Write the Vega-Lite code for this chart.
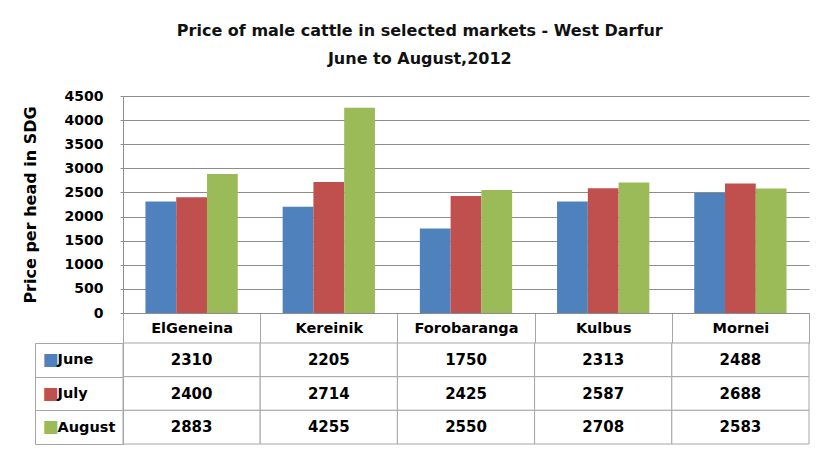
{
  "$schema": "https://vega.github.io/schema/vega-lite/v6.json",
  "padding": {"left": 22, "top": 23, "right": 0, "bottom": 0},
  "background": "white",
  "bounds": "flush",
  "spacing": 30,
  "config": {
    "font": "DejaVu Sans",
    "view": {"stroke": null},
    "axis": {"labelFont": "DejaVu Sans", "labelFontWeight": "bold", "labelColor": "#000000", "titleFont": "DejaVu Sans", "titleColor": "#000000"}
  },
  "data": {
    "values": [
      {"market": "ElGeneina", "month": "June", "price": 2310},
      {"market": "ElGeneina", "month": "July", "price": 2400},
      {"market": "ElGeneina", "month": "August", "price": 2883},
      {"market": "Kereinik", "month": "June", "price": 2205},
      {"market": "Kereinik", "month": "July", "price": 2714},
      {"market": "Kereinik", "month": "August", "price": 4255},
      {"market": "Forobaranga", "month": "June", "price": 1750},
      {"market": "Forobaranga", "month": "July", "price": 2425},
      {"market": "Forobaranga", "month": "August", "price": 2550},
      {"market": "Kulbus", "month": "June", "price": 2313},
      {"market": "Kulbus", "month": "July", "price": 2587},
      {"market": "Kulbus", "month": "August", "price": 2708},
      {"market": "Mornei", "month": "June", "price": 2488},
      {"market": "Mornei", "month": "July", "price": 2688},
      {"market": "Mornei", "month": "August", "price": 2583}
    ]
  },
  "vconcat": [
    {
      "width": 686,
      "height": 217,
      "title": {
        "text": ["Price of male cattle in selected markets - West Darfur", "June to August,2012"],
        "anchor": "middle",
        "frame": "bounds",
        "font": "DejaVu Sans",
        "fontSize": 16,
        "fontWeight": "bold",
        "color": "#111111",
        "lineHeight": 28,
        "offset": 22,
        "dx": 4
      },
      "mark": {"type": "bar"},
      "encoding": {
        "x": {
          "field": "market",
          "type": "nominal",
          "sort": ["ElGeneina", "Kereinik", "Forobaranga", "Kulbus", "Mornei"],
          "scale": {"paddingInner": 0, "paddingOuter": 0},
          "axis": {
            "title": null,
            "labelAngle": 0,
            "labelFontSize": 14.5,
            "tickBand": "extent",
            "tickSize": 30,
            "tickColor": "#a6a6a6",
            "domainColor": "#8c8c8c",
            "labelPadding": -15,
            "labelBaseline": "middle"
          }
        },
        "xOffset": {
          "field": "month",
          "type": "nominal",
          "sort": ["June", "July", "August"],
          "scale": {"paddingInner": 0, "paddingOuter": 0.73}
        },
        "y": {
          "field": "price",
          "type": "quantitative",
          "scale": {"domain": [0, 4500], "nice": false},
          "axis": {
            "title": "Price per head in SDG",
            "titleFontSize": 16,
            "titleFontWeight": "bold",
            "titlePadding": 26,
            "format": "d",
            "values": [0, 500, 1000, 1500, 2000, 2500, 3000, 3500, 4000, 4500],
            "labelFontSize": 14,
            "labelPadding": 17,
            "tickSize": 3,
            "tickColor": "#8c8c8c",
            "domainColor": "#8c8c8c",
            "gridColor": "#8c8c8c",
            "grid": true
          }
        },
        "color": {
          "field": "month",
          "type": "nominal",
          "scale": {"domain": ["June", "July", "August"], "range": ["#4f81bd", "#c0504d", "#9bbb59"]},
          "legend": null
        }
      }
    },
    {
      "width": 686,
      "height": 101,
      "layer": [
        {
          "mark": {"type": "rect", "fill": "white", "stroke": "#a6a6a6", "strokeWidth": 1},
          "encoding": {
            "x": {
              "field": "market",
              "type": "nominal",
              "sort": ["ElGeneina", "Kereinik", "Forobaranga", "Kulbus", "Mornei"],
              "scale": {"paddingInner": 0, "paddingOuter": 0},
              "axis": null
            },
            "y": {
              "field": "month",
              "type": "nominal",
              "sort": ["June", "July", "August"],
              "scale": {"paddingInner": 0, "paddingOuter": 0},
              "axis": {
                "title": null,
                "orient": "left",
                "labelFontSize": 14.5,
                "labelAlign": "left",
                "labelPadding": -22,
                "tickBand": "extent",
                "tickSize": 88,
                "tickColor": "#a6a6a6",
                "domainColor": "#a6a6a6"
              }
            }
          }
        },
        {
          "mark": {"type": "text", "font": "DejaVu Sans", "fontWeight": "bold", "fontSize": 15, "color": "#000000", "baseline": "middle", "align": "center"},
          "encoding": {
            "x": {
              "field": "market",
              "type": "nominal",
              "sort": ["ElGeneina", "Kereinik", "Forobaranga", "Kulbus", "Mornei"],
              "axis": null
            },
            "y": {
              "field": "month",
              "type": "nominal",
              "sort": ["June", "July", "August"],
              "axis": {
                "title": null,
                "orient": "left",
                "offset": 88,
                "ticks": false,
                "domain": true,
                "domainColor": "#a6a6a6",
                "labelExpr": "'■'",
                "labelFontSize": 17,
                "labelAlign": "left",
                "labelPadding": -7,
                "labelColor": {
                  "condition": [
                    {"test": "datum.value == 'June'", "value": "#4f81bd"},
                    {"test": "datum.value == 'July'", "value": "#c0504d"}
                  ],
                  "value": "#9bbb59"
                }
              }
            },
            "text": {"field": "price", "type": "quantitative", "format": "d"}
          }
        }
      ],
      "resolve": {"axis": {"y": "independent"}}
    }
  ]
}
